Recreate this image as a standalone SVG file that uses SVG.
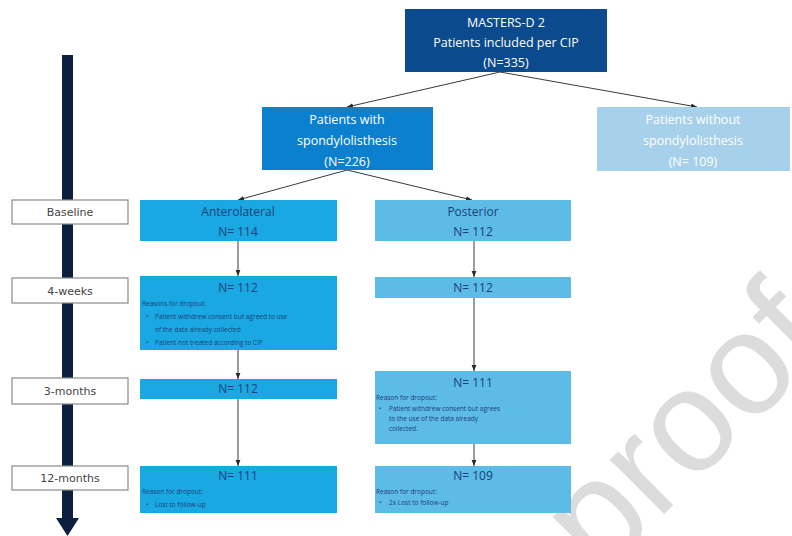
<svg xmlns="http://www.w3.org/2000/svg" width="792" height="536" viewBox="0 0 792 536">
<defs>
<style>
text{font-family:"Open Sans","Noto Sans","Liberation Sans",sans-serif}
.wt{fill:#ffffff;font-size:12.5px;text-anchor:middle}
.bt{fill:#1d3f7a;font-size:12px;text-anchor:middle}
.sm{fill:#1d3f7a;font-size:6.5px}
.lbl{fill:#ffffff;stroke:#8a8a8a;stroke-width:1.2}
.lt{fill:#444;font-size:11px;text-anchor:middle;font-family:"DejaVu Sans","Liberation Sans",sans-serif}
.ant{fill:#1aa8e2}
.pos{fill:#5cbbe7}
.con{stroke:#3a3a3a;stroke-width:1;fill:none;marker-end:url(#ah)}
.wm{font-family:"Liberation Sans",sans-serif;font-size:145px;fill:#dcdcdc}
</style>
<marker id="ah" viewBox="0 0 10 10" refX="10" refY="5" markerWidth="6" markerHeight="6" orient="auto">
<path d="M0,1 L10,5 L0,9 z" fill="#2a2a2a"/>
</marker>
</defs>
<rect width="792" height="536" fill="#ffffff"/>
<text class="wm" x="0" y="0" transform="translate(600,578) rotate(-45)">proof</text>

<g id="timeline">
<rect x="62" y="55" width="11" height="470" fill="#0c1f3f"/>
<path d="M56,518 L79,518 L67.5,536 z" fill="#0c1f3f"/>
</g>

<g id="connectors">
<line class="con" x1="500" y1="72" x2="347" y2="107"/>
<line class="con" x1="500" y1="72" x2="697" y2="107"/>
<line class="con" x1="347" y1="170" x2="238" y2="200"/>
<line class="con" x1="347" y1="170" x2="472" y2="200"/>
<line class="con" x1="238" y1="241" x2="238" y2="276"/>
<line class="con" x1="238" y1="350" x2="238" y2="379"/>
<line class="con" x1="238" y1="399" x2="238" y2="466"/>
<line class="con" x1="474" y1="241" x2="474" y2="277"/>
<line class="con" x1="474" y1="298" x2="474" y2="371"/>
<line class="con" x1="474" y1="444" x2="474" y2="466"/>
</g>

<g id="masters">
<rect x="405" y="9" width="202" height="63" fill="#0b4a8c"/>
<text class="wt" x="506" y="27">MASTERS-D 2</text>
<text class="wt" x="506" y="47">Patients included per CIP</text>
<text class="wt" x="506" y="67">(N=335)</text>
</g>

<g id="with-spondy">
<rect x="262" y="107" width="171" height="63" fill="#0b80cf"/>
<text class="wt" x="347" y="124">Patients with</text>
<text class="wt" x="347" y="145">spondylolisthesis</text>
<text class="wt" x="347" y="166">(N=226)</text>
</g>

<g id="without-spondy">
<rect x="597" y="107" width="193" height="64" fill="#a7d0ea"/>
<text class="wt" x="693" y="124">Patients without</text>
<text class="wt" x="693" y="145">spondylolisthesis</text>
<text class="wt" x="693" y="166">(N= 109)</text>
</g>

<g id="label-baseline">
<rect class="lbl" x="12" y="200" width="116" height="24"/>
<text class="lt" x="70" y="216">Baseline</text>
</g>
<g id="label-4weeks">
<rect class="lbl" x="12" y="278" width="116" height="25"/>
<text class="lt" x="70" y="295">4-weeks</text>
</g>
<g id="label-3months">
<rect class="lbl" x="12" y="378" width="116" height="26"/>
<text class="lt" x="70" y="395">3-months</text>
</g>
<g id="label-12months">
<rect class="lbl" x="12" y="466" width="116" height="24"/>
<text class="lt" x="70" y="482">12-months</text>
</g>

<g id="ant-baseline">
<rect class="ant" x="140" y="200" width="197" height="41"/>
<text class="bt" x="238" y="216">Anterolateral</text>
<text class="bt" x="238" y="236">N= 114</text>
</g>
<g id="ant-4weeks">
<rect class="ant" x="140" y="276" width="197" height="74"/>
<text class="bt" x="238" y="292">N= 112</text>
<text class="sm" x="142" y="306">Reasons for dropout:</text>
<text class="sm" x="146" y="319">•</text>
<text class="sm" x="155" y="319">Patient withdrew consent but agreed to use</text>
<text class="sm" x="155" y="332">of the data already collected</text>
<text class="sm" x="146" y="345">•</text>
<text class="sm" x="155" y="345">Patient not treated according to CIP</text>
</g>
<g id="ant-3months">
<rect class="ant" x="140" y="379" width="197" height="20"/>
<text class="bt" x="238" y="393">N= 112</text>
</g>
<g id="ant-12months">
<rect class="ant" x="140" y="466" width="197" height="47"/>
<text class="bt" x="238" y="480">N= 111</text>
<text class="sm" x="142" y="494">Reason for dropout:</text>
<text class="sm" x="146" y="507">•</text>
<text class="sm" x="155" y="507">Lost to follow-up</text>
</g>

<g id="pos-baseline">
<rect class="pos" x="375" y="200" width="196" height="41"/>
<text class="bt" x="473" y="216">Posterior</text>
<text class="bt" x="473" y="236">N= 112</text>
</g>
<g id="pos-4weeks">
<rect class="pos" x="375" y="277" width="196" height="21"/>
<text class="bt" x="473" y="292">N= 112</text>
</g>
<g id="pos-3months">
<rect class="pos" x="375" y="371" width="196" height="73"/>
<text class="bt" x="473" y="387">N= 111</text>
<text class="sm" x="376" y="400">Reason for dropout:</text>
<text class="sm" x="379" y="411">•</text>
<text class="sm" x="389" y="411">Patient withdrew consent but agrees</text>
<text class="sm" x="389" y="421">to the use of the data already</text>
<text class="sm" x="389" y="431">collected.</text>
</g>
<g id="pos-12months">
<rect class="pos" x="375" y="466" width="196" height="47"/>
<text class="bt" x="473" y="480">N= 109</text>
<text class="sm" x="376" y="494">Reason for dropout:</text>
<text class="sm" x="379" y="505">•</text>
<text class="sm" x="389" y="505">2x Lost to follow-up</text>
</g>
</svg>
